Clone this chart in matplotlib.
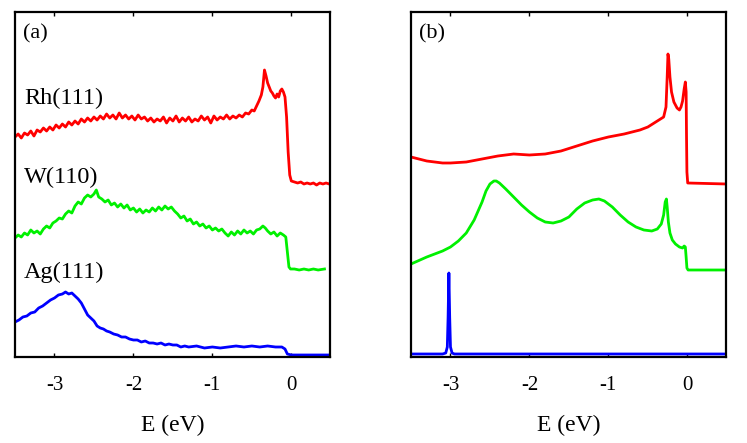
import numpy as np
import matplotlib
matplotlib.use("Agg")
import matplotlib.pyplot as plt

plt.rcParams['font.family'] = ['Liberation Serif', 'DejaVu Serif']

# ---- panel (a): measured spectra (offset, arb. units) ----
rh_a_x = [-3.50, -3.46, -3.42, -3.38, -3.34, -3.30, -3.26, -3.22, -3.18, -3.14,
          -3.10, -3.06, -3.02, -2.98, -2.94, -2.90, -2.86, -2.82, -2.78, -2.74,
          -2.70, -2.66, -2.62, -2.58, -2.54, -2.50, -2.46, -2.42, -2.38, -2.34,
          -2.30, -2.26, -2.22, -2.18, -2.14, -2.10, -2.06, -2.02, -1.98, -1.94,
          -1.90, -1.86, -1.82, -1.78, -1.74, -1.70, -1.66, -1.62, -1.58, -1.54,
          -1.50, -1.46, -1.42, -1.38, -1.34, -1.30, -1.26, -1.22, -1.18, -1.14,
          -1.10, -1.06, -1.02, -0.98, -0.94, -0.90, -0.86, -0.82, -0.78, -0.74,
          -0.70, -0.66, -0.62, -0.58, -0.54, -0.50, -0.47, -0.44, -0.41, -0.38,
          -0.36, -0.34, -0.32, -0.30, -0.28, -0.26, -0.24, -0.22, -0.20, -0.18,
          -0.16, -0.14, -0.12, -0.10, -0.08, -0.06, -0.04, -0.02, 0.00, 0.04,
          0.08, 0.12, 0.16, 0.20, 0.24, 0.28, 0.32, 0.36, 0.40, 0.44,
          0.48]
rh_a_y = [220, 223, 219, 224, 222, 226, 221, 227, 225, 229,
          226, 230, 227, 232, 229, 233, 230, 235, 232, 236,
          233, 238, 235, 239, 236, 240, 237, 241, 238, 243,
          239, 242, 238, 244, 239, 242, 238, 241, 237, 242,
          238, 240, 236, 239, 235, 238, 236, 240, 234, 239,
          236, 241, 235, 239, 236, 240, 235, 238, 236, 241,
          237, 240, 234, 241, 237, 240, 238, 242, 238, 241,
          239, 242, 240, 244, 243, 247, 246, 251, 256, 262,
          270, 287, 281, 274, 270, 266, 264, 261, 259, 263,
          260, 266, 268, 265, 260, 240, 205, 182, 176, 175,
          174, 175, 173, 174, 173, 174, 172, 174, 173, 174,
          173]

w_a_x = [-3.50, -3.46, -3.42, -3.38, -3.34, -3.30, -3.26, -3.22, -3.18, -3.14,
         -3.10, -3.06, -3.02, -2.98, -2.94, -2.90, -2.86, -2.82, -2.78, -2.74,
         -2.70, -2.66, -2.62, -2.58, -2.54, -2.50, -2.47, -2.44, -2.40, -2.36,
         -2.32, -2.28, -2.24, -2.20, -2.16, -2.12, -2.08, -2.04, -2.00, -1.96,
         -1.92, -1.88, -1.84, -1.80, -1.76, -1.72, -1.68, -1.64, -1.60, -1.56,
         -1.52, -1.48, -1.44, -1.40, -1.36, -1.32, -1.28, -1.24, -1.20, -1.16,
         -1.12, -1.08, -1.04, -1.00, -0.96, -0.92, -0.88, -0.84, -0.80, -0.76,
         -0.72, -0.68, -0.64, -0.60, -0.56, -0.52, -0.48, -0.44, -0.40, -0.36,
         -0.33, -0.30, -0.26, -0.22, -0.18, -0.14, -0.10, -0.07, -0.05, -0.03,
         -0.01, 0.04, 0.10, 0.16, 0.22, 0.28, 0.34, 0.42]
w_a_y = [119, 122, 120, 124, 122, 127, 124, 126, 123, 128,
         131, 129, 134, 136, 139, 138, 143, 146, 144, 151,
         155, 153, 159, 162, 160, 163, 167, 160, 158, 155,
         157, 152, 154, 150, 153, 149, 152, 147, 149, 145,
         148, 144, 147, 145, 149, 146, 150, 147, 151, 148,
         150, 146, 143, 139, 141, 136, 138, 133, 135, 131,
         133, 129, 131, 127, 129, 126, 128, 124, 121, 125,
         122, 126, 123, 127, 124, 126, 123, 127, 128, 131,
         129, 126, 123, 125, 121, 124, 122, 120, 105, 90,
         88, 88, 87, 88, 87, 88, 87, 88]

ag_a_x = [-3.50, -3.45, -3.40, -3.35, -3.30, -3.25, -3.20, -3.15, -3.10, -3.05,
          -3.00, -2.95, -2.90, -2.86, -2.82, -2.78, -2.74, -2.70, -2.66, -2.62,
          -2.58, -2.54, -2.50, -2.46, -2.42, -2.38, -2.34, -2.30, -2.25, -2.20,
          -2.15, -2.10, -2.05, -2.00, -1.95, -1.90, -1.85, -1.80, -1.75, -1.70,
          -1.65, -1.60, -1.55, -1.50, -1.45, -1.40, -1.35, -1.30, -1.20, -1.10,
          -1.00, -0.90, -0.80, -0.70, -0.60, -0.50, -0.40, -0.30, -0.20, -0.12,
          -0.08, -0.05, 0.00, 0.20, 0.48]
ag_a_y = [35, 37, 40, 41, 44, 45, 49, 51, 54, 57,
          59, 62, 63, 65, 63, 64, 61, 58, 54, 48,
          42, 39, 36, 31, 29, 28, 26, 25, 23, 22,
          20, 20, 18, 17, 17, 15, 16, 14, 14, 13,
          14, 12, 13, 12, 12, 10, 11, 10, 11, 9,
          10, 9, 10, 11, 10, 11, 10, 11, 10, 10,
          8, 3, 2, 2, 2]

# ---- panel (b): calculated spectra ----
rh_b_x = [-3.5, -3.3, -3.1, -3.0, -2.8, -2.6, -2.4, -2.2, -2.0, -1.8,
          -1.6, -1.4, -1.2, -1.0, -0.8, -0.6, -0.5, -0.4, -0.34, -0.3,
          -0.27, -0.255, -0.245, -0.235, -0.22, -0.2, -0.17, -0.13, -0.1, -0.08,
          -0.06, -0.04, -0.025, -0.015, -0.01, -0.005, 0.005, 0.5]
rh_b_y = [200, 196, 194, 194, 195, 198, 201, 203, 202, 203,
          206, 211, 216, 220, 223, 227, 230, 235, 238, 240,
          250, 280, 303, 298, 280, 265, 255, 249, 247, 250,
          256, 268, 275, 265, 220, 185, 174, 173]

w_b_x = [-3.5, -3.3, -3.1, -3.0, -2.9, -2.8, -2.7, -2.6, -2.55, -2.5,
         -2.45, -2.42, -2.38, -2.3, -2.2, -2.1, -2.0, -1.9, -1.8, -1.7,
         -1.6, -1.5, -1.4, -1.3, -1.2, -1.12, -1.05, -0.95, -0.85, -0.75,
         -0.65, -0.55, -0.45, -0.38, -0.33, -0.3, -0.28, -0.265, -0.255, -0.24,
         -0.22, -0.19, -0.15, -0.1, -0.06, -0.04, -0.025, -0.015, -0.005, 0.01,
         0.5]
w_b_y = [93, 100, 106, 110, 116, 124, 137, 155, 166, 173,
         176, 176, 174, 168, 160, 152, 145, 139, 135, 134,
         136, 140, 148, 154, 157, 158, 156, 150, 142, 135,
         130, 127, 126, 128, 133, 142, 155, 158, 150, 135,
         124, 117, 113, 110, 109, 111, 110, 100, 89, 87,
         87]

ag_b_x = [-3.5, -3.1, -3.06, -3.04, -3.03, -3.02, -3.01, -3.0, -2.98, -2.95, 0.5]
ag_b_y = [3, 3, 4, 10, 40, 84, 40, 10, 4, 3, 3]

tick_pos = [-3, -2, -1, 0]
tick_lbl = ['-3', '-2', '-1', '0']

fig = plt.figure(figsize=(7.47, 4.43), dpi=100)
ax_a = fig.add_axes([15 / 747, 86 / 443, 315 / 747, 345 / 443])
ax_b = fig.add_axes([411 / 747, 86 / 443, 315 / 747, 345 / 443])

for ax in (ax_a, ax_b):
    ax.set_xlim(-3.5, 0.49)
    ax.set_ylim(0, 345)
    ax.set_yticks([])
    ax.set_xticks(tick_pos)
    ax.set_xticklabels(tick_lbl)
    ax.tick_params(axis='x', direction='in', top=True, length=3, width=1,
                   labelsize=15, pad=14)
    for s in ax.spines.values():
        s.set_linewidth(1.6)
    ax.set_xlabel('E (eV)', fontsize=17, labelpad=14)

lw = 2
ax_a.plot(rh_a_x, rh_a_y, color='#ff0000', lw=lw)
ax_a.plot(w_a_x, w_a_y, color='#00f000', lw=lw)
ax_a.plot(ag_a_x, ag_a_y, color='#0000ff', lw=lw)

ax_b.plot(rh_b_x, rh_b_y, color='#ff0000', lw=lw)
ax_b.plot(w_b_x, w_b_y, color='#00f000', lw=lw)
ax_b.plot(ag_b_x, ag_b_y, color='#0000ff', lw=lw)

ax_a.text(0.025, 0.965, '(a)', transform=ax_a.transAxes, fontsize=16, va='top')
ax_b.text(0.025, 0.965, '(b)', transform=ax_b.transAxes, fontsize=16, va='top')

ax_a.text(0.028, 259, 'Rh(111)', transform=ax_a.get_yaxis_transform(),
          fontsize=17.5, va='center')
ax_a.text(0.028, 180, 'W(110)', transform=ax_a.get_yaxis_transform(),
          fontsize=17.5, va='center')
ax_a.text(0.028, 85, 'Ag(111)', transform=ax_a.get_yaxis_transform(),
          fontsize=17.5, va='center')

fig.savefig('out.png', dpi=100)
